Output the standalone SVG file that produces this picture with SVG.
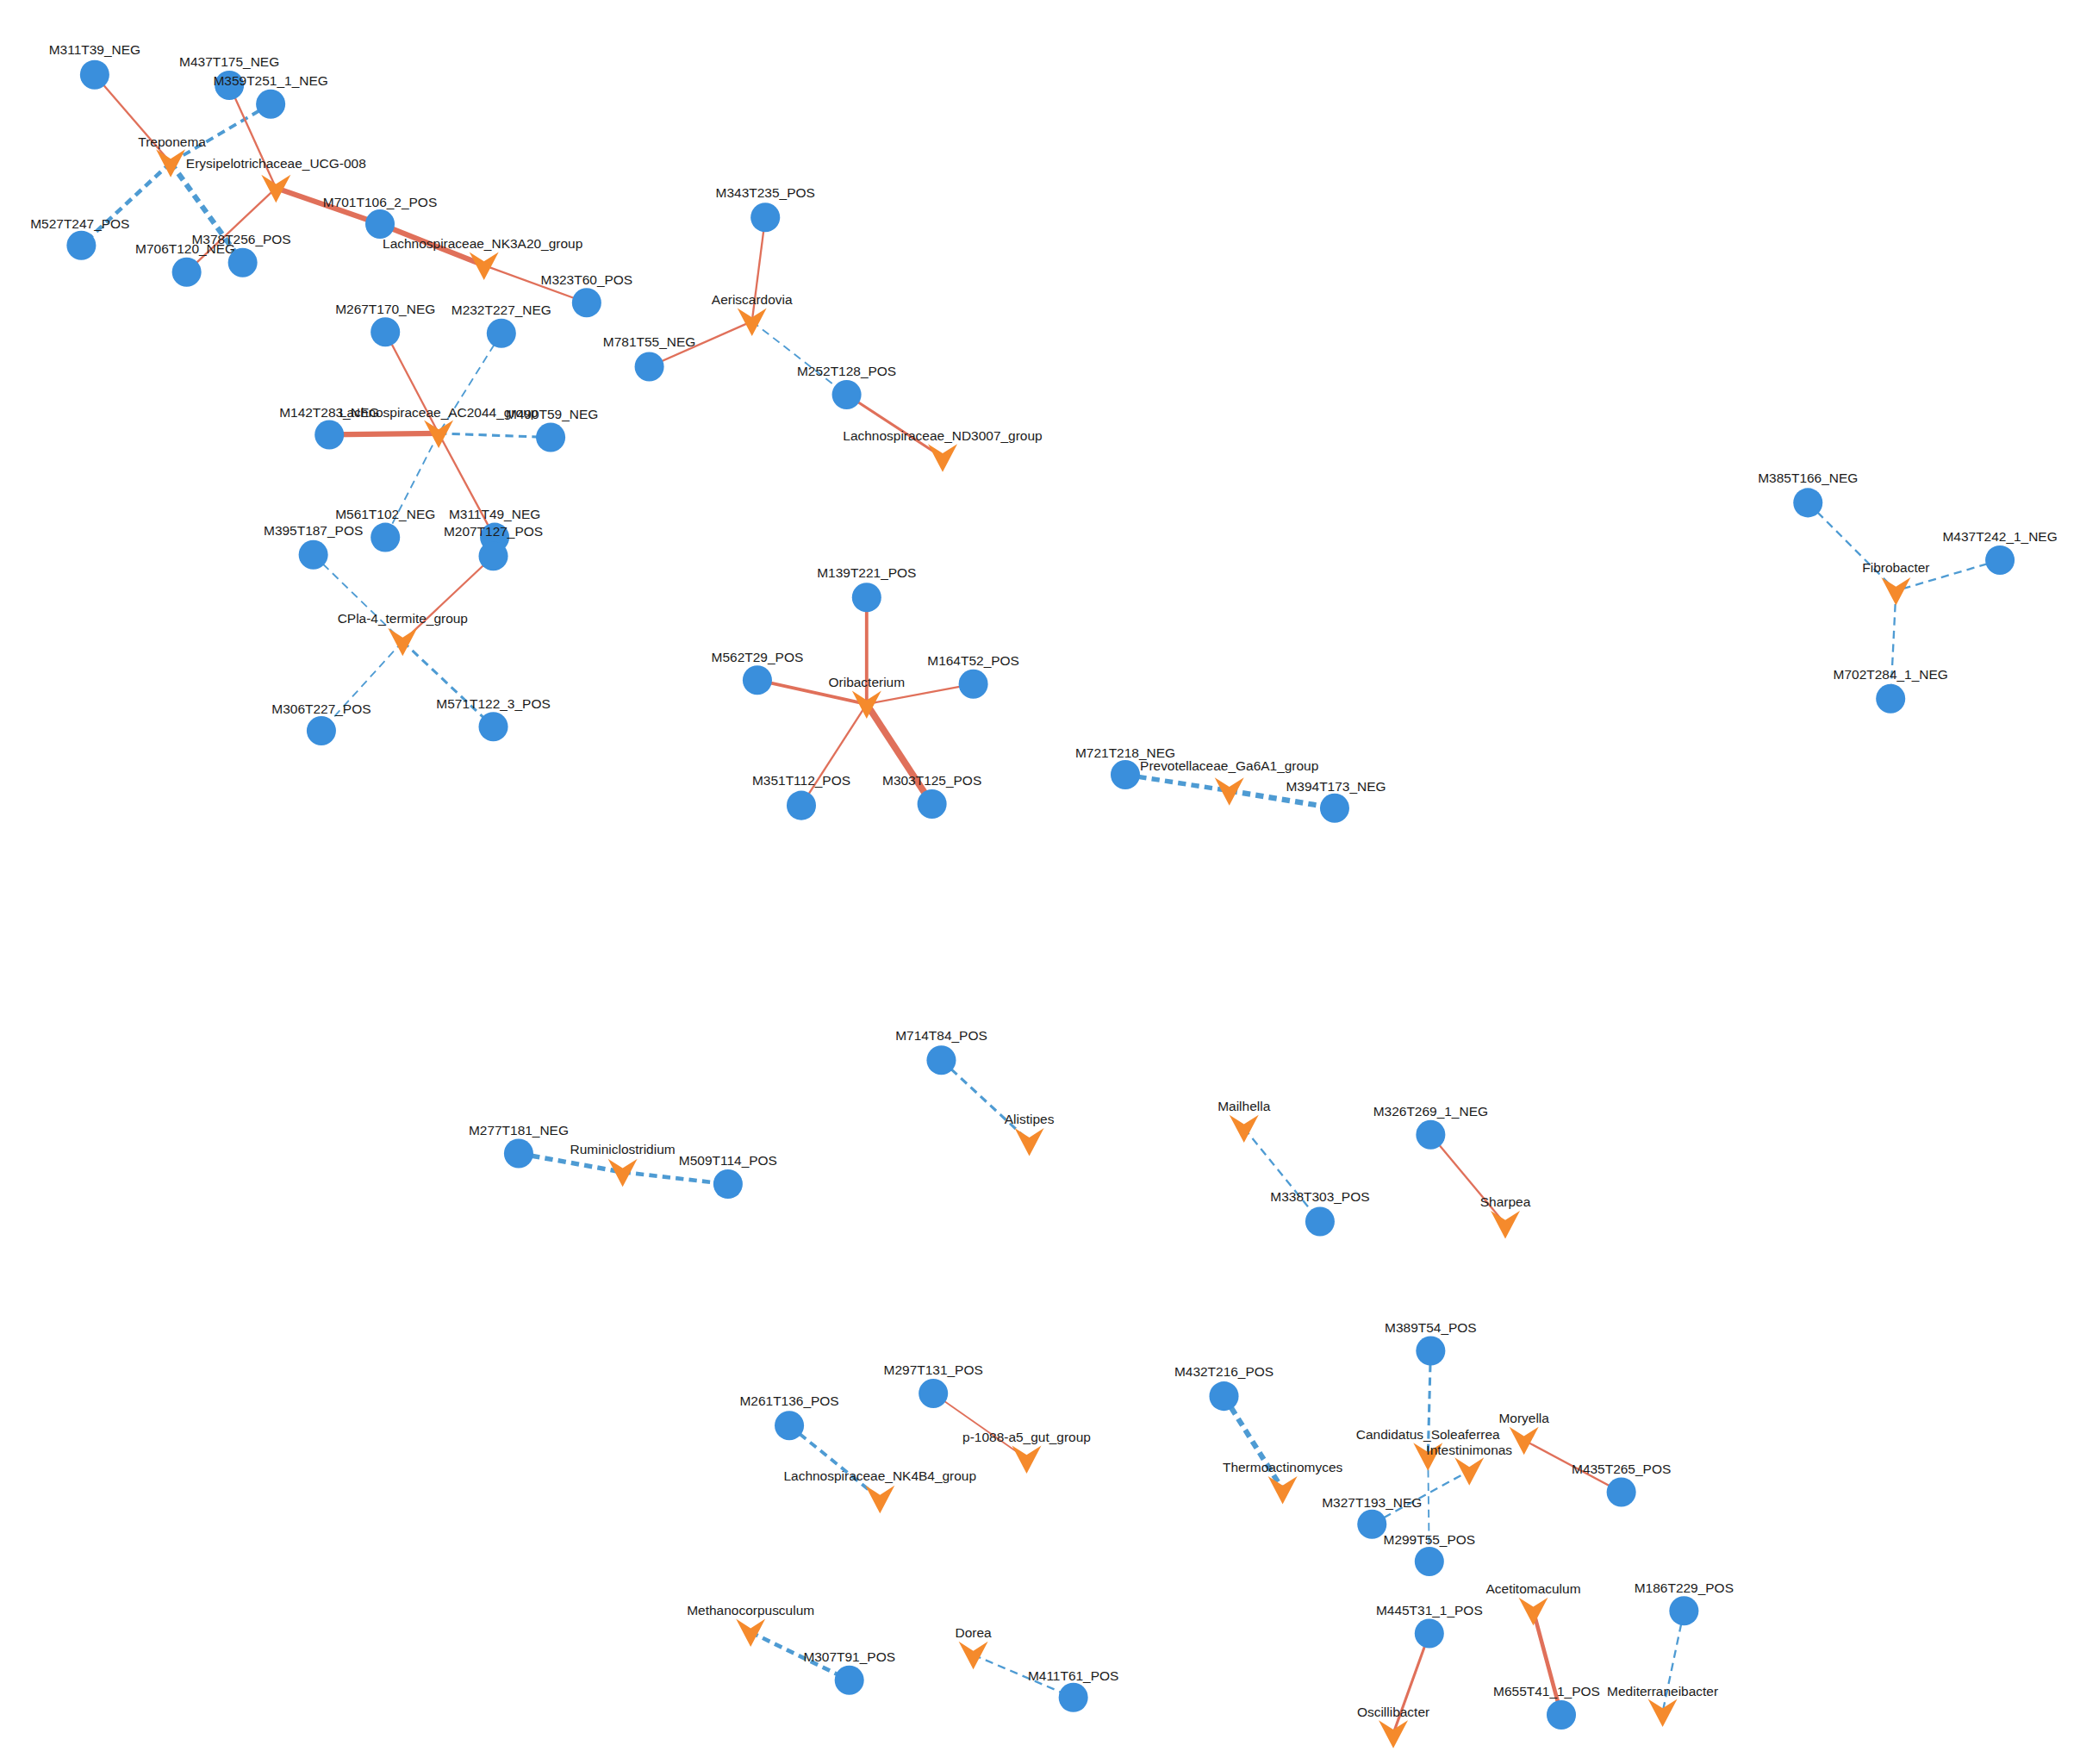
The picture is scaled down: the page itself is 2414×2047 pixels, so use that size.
<svg xmlns="http://www.w3.org/2000/svg" width="2414" height="2047" viewBox="0 0 2414 2047">
<style>
.m{fill:#3a8fdc}
.t{fill:#f58a2c}
text{font-family:"Liberation Sans",Arial,sans-serif;font-size:10px;fill:#1a1a1a;text-anchor:middle}
.r{stroke:#e0705a;fill:none}
.b{stroke:#4e9bd3;fill:none;stroke-dasharray:6,4}
</style>
<defs>
<circle id="c" r="11" class="m"/>
<path id="v" class="t" d="M-11,-10 L0,-3 L11,-10 L0,11 Z"/>
</defs>
<rect width="2414" height="2047" fill="#fff"/>
<g transform="scale(1.5474)">
<g id="edges" stroke-width="1.5">
<line class="r" x1="71" y1="56" x2="128" y2="122"/>
<line class="b" x1="203" y1="78" x2="128" y2="122" stroke-width="2.5"/>
<line class="b" x1="128" y1="122" x2="61" y2="184" stroke-width="3"/>
<line class="b" x1="128" y1="122" x2="182" y2="197" stroke-width="4"/>
<line class="r" x1="172" y1="64" x2="207" y2="141"/>
<line class="r" x1="207" y1="141" x2="140" y2="204"/>
<line class="r" x1="207" y1="141" x2="285" y2="168" stroke-width="4"/>
<line class="r" x1="285" y1="168" x2="363" y2="199" stroke-width="4"/>
<line class="r" x1="363" y1="199" x2="440" y2="227"/>
<line class="r" x1="289" y1="249" x2="329" y2="325"/>
<line class="b" x1="376" y1="250" x2="329" y2="325" stroke-width="1.2"/>
<line class="b" x1="329" y1="325" x2="289" y2="403" stroke-width="1.2"/>
<line class="r" x1="247" y1="326" x2="329" y2="325" stroke-width="4"/>
<line class="b" x1="329" y1="325" x2="413" y2="328" stroke-width="2"/>
<line class="r" x1="329" y1="325" x2="371" y2="403"/>
<line class="r" x1="370" y1="417" x2="302" y2="481"/>
<line class="b" x1="235" y1="416" x2="302" y2="481" stroke-width="1.2"/>
<line class="b" x1="302" y1="481" x2="241" y2="548" stroke-width="1.2"/>
<line class="b" x1="302" y1="481" x2="370" y2="545" stroke-width="2"/>
<line class="r" x1="574" y1="163" x2="564" y2="241"/>
<line class="r" x1="564" y1="241" x2="487" y2="275"/>
<line class="b" x1="564" y1="241" x2="635" y2="296" stroke-width="1.2"/>
<line class="r" x1="635" y1="296" x2="707" y2="343" stroke-width="2"/>
<line class="r" x1="650" y1="448" x2="650" y2="528" stroke-width="2.5"/>
<line class="r" x1="568" y1="510" x2="650" y2="528" stroke-width="2.5"/>
<line class="r" x1="730" y1="513" x2="650" y2="528"/>
<line class="r" x1="601" y1="604" x2="650" y2="528"/>
<line class="r" x1="699" y1="603" x2="650" y2="528" stroke-width="5"/>
<line class="b" x1="844" y1="581" x2="922" y2="593" stroke-width="3.5"/>
<line class="b" x1="922" y1="593" x2="1001" y2="606" stroke-width="4"/>
<line class="b" x1="1356" y1="377" x2="1422" y2="443"/>
<line class="b" x1="1500" y1="420" x2="1422" y2="443"/>
<line class="b" x1="1422" y1="443" x2="1418" y2="524"/>
<line class="b" x1="706" y1="795" x2="772" y2="856" stroke-width="2"/>
<line class="b" x1="389" y1="865" x2="467" y2="879" stroke-width="3.5"/>
<line class="b" x1="467" y1="879" x2="546" y2="888" stroke-width="3"/>
<line class="b" x1="933" y1="846" x2="990" y2="916"/>
<line class="r" x1="1073" y1="851" x2="1129" y2="918"/>
<line class="r" x1="700" y1="1045" x2="770" y2="1094" stroke-width="1.2"/>
<line class="b" x1="592" y1="1069" x2="660" y2="1124" stroke-width="2.5"/>
<line class="b" x1="918" y1="1047" x2="962" y2="1117" stroke-width="4"/>
<line class="b" x1="1073" y1="1013" x2="1071" y2="1092" stroke-width="2"/>
<line class="b" x1="1071" y1="1092" x2="1072" y2="1171" stroke-width="1.2"/>
<line class="b" x1="1029" y1="1143" x2="1102" y2="1103" stroke-width="1.5"/>
<line class="r" x1="1143" y1="1080" x2="1216" y2="1119"/>
<line class="r" x1="1072" y1="1225" x2="1045" y2="1300" stroke-width="2"/>
<line class="r" x1="1150" y1="1208" x2="1171" y2="1286" stroke-width="3"/>
<line class="b" x1="1263" y1="1208" x2="1247" y2="1284"/>
<line class="b" x1="563" y1="1224" x2="637" y2="1260" stroke-width="3"/>
<line class="b" x1="730" y1="1241" x2="805" y2="1273"/>
</g>
<g id="n1"><use href="#c" x="71" y="56"/><text x="71" y="41">M311T39_NEG</text></g>
<g id="n2"><use href="#c" x="172" y="64"/><text x="172" y="50">M437T175_NEG</text></g>
<g id="n3"><use href="#c" x="203" y="78"/><text x="203" y="64">M359T251_1_NEG</text></g>
<g id="n4"><use href="#v" x="128" y="122"/><text x="129" y="110">Treponema</text></g>
<g id="n5"><use href="#v" x="207" y="141"/><text x="207" y="126">Erysipelotrichaceae_UCG-008</text></g>
<g id="n6"><use href="#c" x="285" y="168"/><text x="285" y="155">M701T106_2_POS</text></g>
<g id="n7"><use href="#c" x="61" y="184"/><text x="60" y="171">M527T247_POS</text></g>
<g id="n8"><use href="#c" x="140" y="204"/><text x="139" y="190">M706T120_NEG</text></g>
<g id="n9"><use href="#c" x="182" y="197"/><text x="181" y="183">M378T256_POS</text></g>
<g id="n10"><use href="#v" x="363" y="199"/><text x="362" y="186">Lachnospiraceae_NK3A20_group</text></g>
<g id="n11"><use href="#c" x="440" y="227"/><text x="440" y="213">M323T60_POS</text></g>
<g id="n12"><use href="#c" x="289" y="249"/><text x="289" y="235">M267T170_NEG</text></g>
<g id="n13"><use href="#c" x="376" y="250"/><text x="376" y="236">M232T227_NEG</text></g>
<g id="n14"><use href="#c" x="247" y="326"/><text x="247" y="313">M142T283_NEG</text></g>
<g id="n15"><use href="#c" x="413" y="328"/><text x="414" y="314">M490T59_NEG</text></g>
<g id="n16"><use href="#v" x="329" y="325"/><text x="329" y="313">Lachnospiraceae_AC2044_group</text></g>
<g id="n17"><use href="#c" x="289" y="403"/><text x="289" y="389">M561T102_NEG</text></g>
<g id="n18"><use href="#c" x="371" y="403"/><text x="371" y="389">M311T49_NEG</text></g>
<g id="n19"><use href="#c" x="370" y="417"/><text x="370" y="402">M207T127_POS</text></g>
<g id="n20"><use href="#c" x="235" y="416"/><text x="235" y="401">M395T187_POS</text></g>
<g id="n21"><use href="#v" x="302" y="481"/><text x="302" y="467">CPla-4_termite_group</text></g>
<g id="n22"><use href="#c" x="241" y="548"/><text x="241" y="535">M306T227_POS</text></g>
<g id="n23"><use href="#c" x="370" y="545"/><text x="370" y="531">M571T122_3_POS</text></g>
<g id="n24"><use href="#c" x="574" y="163"/><text x="574" y="148">M343T235_POS</text></g>
<g id="n25"><use href="#v" x="564" y="241"/><text x="564" y="228">Aeriscardovia</text></g>
<g id="n26"><use href="#c" x="487" y="275"/><text x="487" y="260">M781T55_NEG</text></g>
<g id="n27"><use href="#c" x="635" y="296"/><text x="635" y="282">M252T128_POS</text></g>
<g id="n28"><use href="#v" x="707" y="343"/><text x="707" y="330">Lachnospiraceae_ND3007_group</text></g>
<g id="n29"><use href="#c" x="650" y="448"/><text x="650" y="433">M139T221_POS</text></g>
<g id="n30"><use href="#c" x="568" y="510"/><text x="568" y="496">M562T29_POS</text></g>
<g id="n31"><use href="#c" x="730" y="513"/><text x="730" y="499">M164T52_POS</text></g>
<g id="n32"><use href="#v" x="650" y="528"/><text x="650" y="515">Oribacterium</text></g>
<g id="n33"><use href="#c" x="601" y="604"/><text x="601" y="589">M351T112_POS</text></g>
<g id="n34"><use href="#c" x="699" y="603"/><text x="699" y="589">M303T125_POS</text></g>
<g id="n35"><use href="#c" x="844" y="581"/><text x="844" y="568">M721T218_NEG</text></g>
<g id="n36"><use href="#v" x="922" y="593"/><text x="922" y="578">Prevotellaceae_Ga6A1_group</text></g>
<g id="n37"><use href="#c" x="1001" y="606"/><text x="1002" y="593">M394T173_NEG</text></g>
<g id="n38"><use href="#c" x="1356" y="377"/><text x="1356" y="362">M385T166_NEG</text></g>
<g id="n39"><use href="#c" x="1500" y="420"/><text x="1500" y="406">M437T242_1_NEG</text></g>
<g id="n40"><use href="#v" x="1422" y="443"/><text x="1422" y="429">Fibrobacter</text></g>
<g id="n41"><use href="#c" x="1418" y="524"/><text x="1418" y="509">M702T284_1_NEG</text></g>
<g id="n42"><use href="#c" x="706" y="795"/><text x="706" y="780">M714T84_POS</text></g>
<g id="n43"><use href="#v" x="772" y="856"/><text x="772" y="843">Alistipes</text></g>
<g id="n44"><use href="#c" x="389" y="865"/><text x="389" y="851">M277T181_NEG</text></g>
<g id="n45"><use href="#v" x="467" y="879"/><text x="467" y="865">Ruminiclostridium</text></g>
<g id="n46"><use href="#c" x="546" y="888"/><text x="546" y="874">M509T114_POS</text></g>
<g id="n47"><use href="#v" x="933" y="846"/><text x="933" y="833">Mailhella</text></g>
<g id="n48"><use href="#c" x="990" y="916"/><text x="990" y="901">M338T303_POS</text></g>
<g id="n49"><use href="#c" x="1073" y="851"/><text x="1073" y="837">M326T269_1_NEG</text></g>
<g id="n50"><use href="#v" x="1129" y="918"/><text x="1129" y="905">Sharpea</text></g>
<g id="n51"><use href="#c" x="700" y="1045"/><text x="700" y="1031">M297T131_POS</text></g>
<g id="n52"><use href="#v" x="770" y="1094"/><text x="770" y="1081">p-1088-a5_gut_group</text></g>
<g id="n53"><use href="#c" x="592" y="1069"/><text x="592" y="1054">M261T136_POS</text></g>
<g id="n54"><use href="#v" x="660" y="1124"/><text x="660" y="1110">Lachnospiraceae_NK4B4_group</text></g>
<g id="n55"><use href="#c" x="918" y="1047"/><text x="918" y="1032">M432T216_POS</text></g>
<g id="n56"><use href="#v" x="962" y="1117"/><text x="962" y="1104">Thermoactinomyces</text></g>
<g id="n57"><use href="#c" x="1073" y="1013"/><text x="1073" y="999">M389T54_POS</text></g>
<g id="n58"><use href="#v" x="1071" y="1092"/><text x="1071" y="1079">Candidatus_Soleaferrea</text></g>
<g id="n59"><use href="#v" x="1102" y="1103"/><text x="1102" y="1091">Intestinimonas</text></g>
<g id="n60"><use href="#c" x="1029" y="1143"/><text x="1029" y="1130">M327T193_NEG</text></g>
<g id="n61"><use href="#c" x="1072" y="1171"/><text x="1072" y="1158">M299T55_POS</text></g>
<g id="n62"><use href="#v" x="1143" y="1080"/><text x="1143" y="1067">Moryella</text></g>
<g id="n63"><use href="#c" x="1216" y="1119"/><text x="1216" y="1105">M435T265_POS</text></g>
<g id="n64"><use href="#c" x="1072" y="1225"/><text x="1072" y="1211">M445T31_1_POS</text></g>
<g id="n65"><use href="#v" x="1045" y="1300"/><text x="1045" y="1287">Oscillibacter</text></g>
<g id="n66"><use href="#v" x="1150" y="1208"/><text x="1150" y="1195">Acetitomaculum</text></g>
<g id="n67"><use href="#c" x="1171" y="1286"/><text x="1160" y="1272">M655T41_1_POS</text></g>
<g id="n68"><use href="#c" x="1263" y="1208"/><text x="1263" y="1194">M186T229_POS</text></g>
<g id="n69"><use href="#v" x="1247" y="1284"/><text x="1247" y="1272">Mediterraneibacter</text></g>
<g id="n70"><use href="#v" x="563" y="1224"/><text x="563" y="1211">Methanocorpusculum</text></g>
<g id="n71"><use href="#c" x="637" y="1260"/><text x="637" y="1246">M307T91_POS</text></g>
<g id="n72"><use href="#v" x="730" y="1241"/><text x="730" y="1228">Dorea</text></g>
<g id="n73"><use href="#c" x="805" y="1273"/><text x="805" y="1260">M411T61_POS</text></g>
</g>
</svg>
